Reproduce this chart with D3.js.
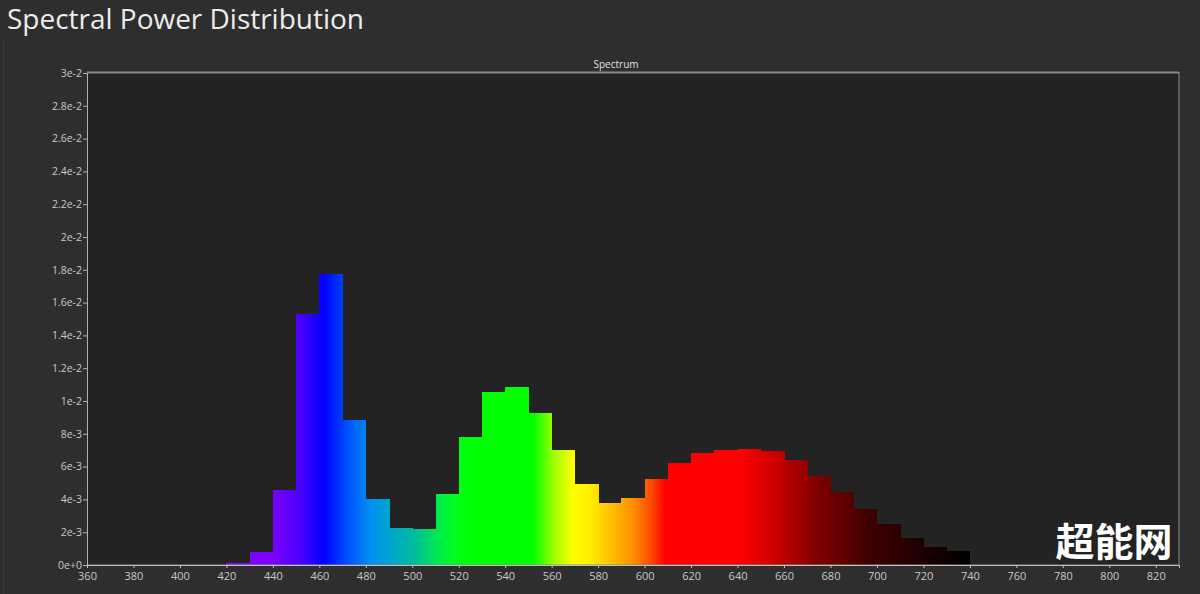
<!DOCTYPE html>
<html>
<head>
<meta charset="utf-8">
<script src="https://cdn.jsdelivr.net/npm/d3@7"></script>
<style>
  html, body { margin: 0; padding: 0; background: #2e2e2e; }
  svg { display: block; }
</style>
</head>
<body>
<svg id="chart" width="1200" height="594"></svg>
<script>
// ---- data ----
const binStarts = [420, 430, 440, 450, 460, 470, 480, 490, 500, 510, 520, 530, 540, 550, 560, 570, 580, 590, 600, 610, 620, 630, 640, 650, 660, 670, 680, 690, 700, 710, 720, 730];
const power = [0.00015, 0.00081, 0.00457, 0.01529, 0.01773, 0.00884, 0.00402, 0.00224, 0.00221, 0.00430, 0.00782, 0.01057, 0.01083, 0.00925, 0.00699, 0.00494, 0.00378, 0.00410, 0.00524, 0.00620, 0.00681, 0.00701, 0.00709, 0.00695, 0.00640, 0.00545, 0.00443, 0.00341, 0.00248, 0.00163, 0.00112, 0.00087];
const binWidth = 10;
const xTicks = [360, 380, 400, 420, 440, 460, 480, 500, 520, 540, 560, 580, 600, 620, 640, 660, 680, 700, 720, 740, 760, 780, 800, 820];
const yTicks = [0, 0.002, 0.004, 0.006, 0.008, 0.010, 0.012, 0.014, 0.016, 0.018, 0.020, 0.022, 0.024, 0.026, 0.028, 0.030];
const yTickLabels = ["0e+0", "2e-3", "4e-3", "6e-3", "8e-3", "1e-2", "1.2e-2", "1.4e-2", "1.6e-2", "1.8e-2", "2e-2", "2.2e-2", "2.4e-2", "2.6e-2", "2.8e-2", "3e-2"];
const gradWavelengths = [420, 440, 452, 462, 472, 482, 492, 502, 510, 518, 525, 552, 561, 569, 576, 584, 595, 603, 609, 641, 655, 674, 696, 717, 740];
const gradColors = ["#8a00ff", "#7a00ff", "#4a00ff", "#0000ff", "#0050ff", "#0090f0", "#00a8c8", "#00bf95", "#00e855", "#00ff20", "#00ff00", "#00ff00", "#a0ff00", "#ffff00", "#fff000", "#ffc800", "#ff9000", "#ff4800", "#ff0000", "#ff0000", "#d00000", "#800000", "#400000", "#200000", "#000000"];
const title = "Spectral Power Distribution";
const subtitle = "Spectrum";
const watermark = "超能网";

// ---- layout ----
const svg = d3.select("#chart");
const x = d3.scaleLinear().domain([360, 830]).range([87, 1179]);
const y = d3.scaleLinear().domain([0, 0.03]).range([565, 73]);

// background
svg.append("rect").attr("width", 1200).attr("height", 594).attr("fill", "#2e2e2e");
svg.append("line").attr("x1", 3.5).attr("x2", 3.5).attr("y1", 40).attr("y2", 594)
  .attr("stroke", "#3c3c3c").attr("stroke-width", 1);

// title
const t = svg.append("text").attr("x", 7).attr("y", 29)
  .attr("font-family", "'Open Sans', 'Noto Sans', sans-serif")
  .attr("font-size", 28).attr("fill", "#ececec").text(title);
const tl = t.node().getComputedTextLength();
t.attr("font-size", 28 * 357 / tl);

// plot background
svg.append("rect")
  .attr("x", x.range()[0]).attr("y", y.range()[1])
  .attr("width", x.range()[1] - x.range()[0])
  .attr("height", y.range()[0] - y.range()[1])
  .attr("fill", "#232323");

// gradient
const defs = svg.append("defs");
const grad = defs.append("linearGradient").attr("id", "spec")
  .attr("gradientUnits", "userSpaceOnUse")
  .attr("x1", x(gradWavelengths[0])).attr("x2", x(gradWavelengths[gradWavelengths.length - 1]))
  .attr("y1", 0).attr("y2", 0);
const w0 = gradWavelengths[0], w1 = gradWavelengths[gradWavelengths.length - 1];
grad.selectAll("stop").data(gradWavelengths).join("stop")
  .attr("offset", d => (d - w0) / (w1 - w0))
  .attr("stop-color", (d, i) => gradColors[i]);

// bars
svg.append("g").selectAll("rect").data(binStarts).join("rect")
  .attr("x", d => x(d))
  .attr("width", d => x(d + binWidth) - x(d) + 0.5)
  .attr("y", (d, i) => y(power[i]))
  .attr("height", (d, i) => y(0) - y(power[i]))
  .attr("fill", "url(#spec)")
  .attr("shape-rendering", "crispEdges");

// frame
svg.append("rect")
  .attr("x", x.range()[0] + 0.5).attr("y", y.range()[1] - 0.5)
  .attr("width", x.range()[1] - x.range()[0] - 0.5)
  .attr("height", y.range()[0] - y.range()[1] + 0.5)
  .attr("fill", "none").attr("stroke", "#8a8a8a").attr("stroke-width", 1);
svg.append("line").attr("x1", x.range()[0]).attr("x2", x.range()[1])
  .attr("y1", y.range()[1] - 0.5).attr("y2", y.range()[1] - 0.5)
  .attr("stroke", "#8a8a8a").attr("stroke-width", 2);

// axes
const tickFont = "'Open Sans', 'Noto Sans', sans-serif";
const yAxis = d3.axisLeft(y).tickValues(yTicks).tickSize(4).tickPadding(1)
  .tickFormat((d, i) => yTickLabels[i]);
const gy = svg.append("g").attr("transform", `translate(${x.range()[0]},0)`).call(yAxis);
gy.select(".domain").attr("stroke", "#b0b0b0");
gy.selectAll(".tick line").attr("stroke", "#b0b0b0");
gy.selectAll(".tick text").attr("fill", "#c8c8c8").attr("font-size", 10.5).attr("font-family", tickFont);

const xAxis = d3.axisBottom(x).tickValues(xTicks).tickSize(3).tickPadding(4).tickFormat(d3.format("d"));
const gx = svg.append("g").attr("transform", `translate(0,${y.range()[0]})`).call(xAxis);
gx.select(".domain").attr("stroke", "#c0c0c0");
gx.selectAll(".tick line").attr("stroke", "#c0c0c0");
gx.selectAll(".tick text").attr("fill", "#c8c8c8").attr("font-size", 11).attr("font-family", tickFont);

// subtitle
svg.append("text").attr("x", 616).attr("y", 68).attr("text-anchor", "middle")
  .attr("font-family", tickFont).attr("font-size", 10).attr("fill", "#e0e0e0").text(subtitle);

// watermark
svg.append("text").attr("x", 1114).attr("y", 556).attr("text-anchor", "middle")
  .attr("font-family", "'Noto Sans CJK SC', sans-serif").attr("font-weight", 700)
  .attr("font-size", 39).attr("fill", "#ffffff").text(watermark);
</script>
</body>
</html>
